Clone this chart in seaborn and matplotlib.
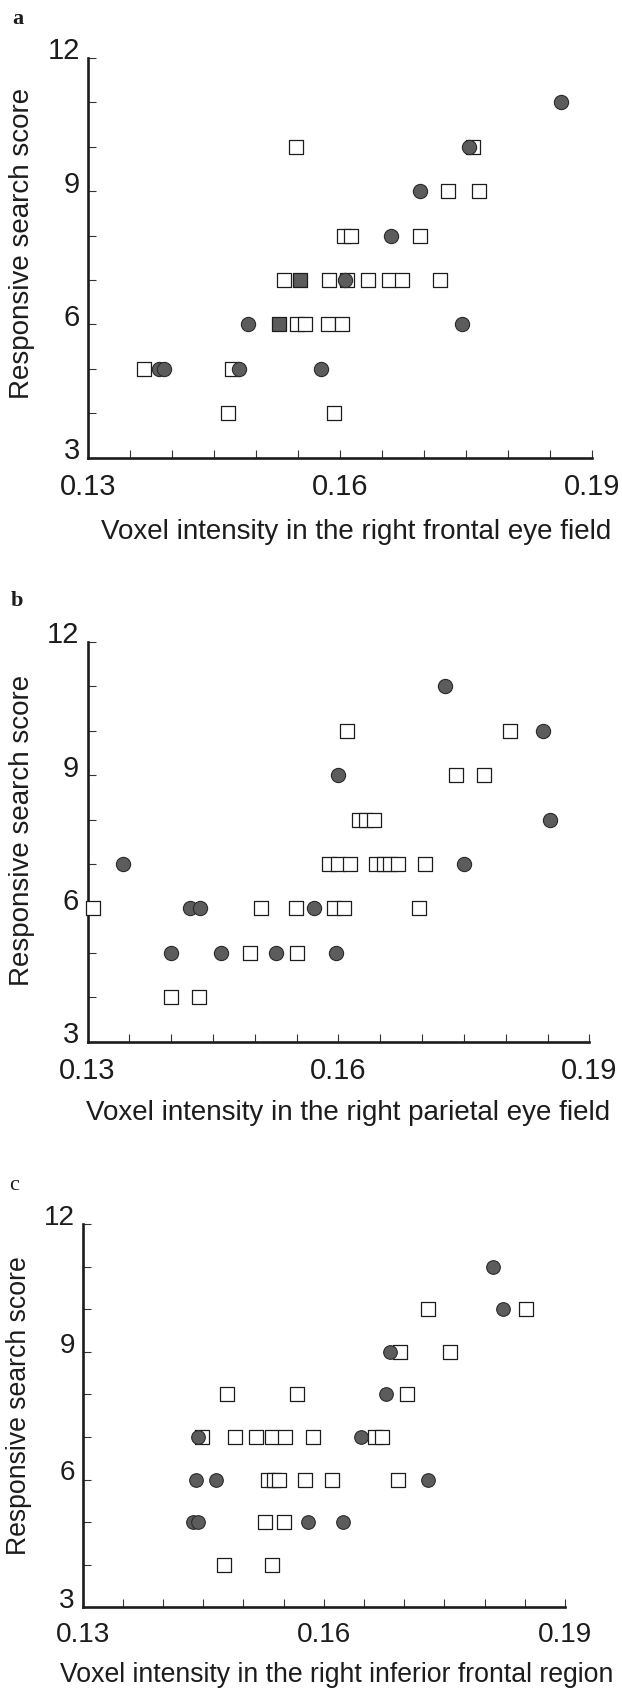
import matplotlib
matplotlib.use("Agg")
import matplotlib.pyplot as plt
import matplotlib.transforms as mtransforms
import seaborn as sns

# ── Data ─────────────────────────────────────────────────────────────────

# a: right frontal eye field
fef_sq_x = [0.1548, 0.1758, 0.1729, 0.1766, 0.1605, 0.1613, 0.1695,
            0.1534, 0.1587, 0.1608, 0.1633, 0.1658, 0.1674, 0.1719,
            0.1549, 0.1558, 0.1586, 0.1603, 0.1367, 0.1472, 0.1467, 0.1593]
fef_sq_y = [10, 10, 9, 9, 8, 8, 8, 7, 7, 7, 7, 7, 7, 7, 6, 6, 6, 6, 5, 5, 4, 4]
fef_ci_x = [0.1863, 0.1754, 0.1695, 0.1661, 0.1606, 0.1490, 0.1746,
            0.1384, 0.1390, 0.1480, 0.1577]
fef_ci_y = [11, 10, 9, 8, 7, 6, 6, 5, 5, 5, 5]
fef_shaded_x = [0.1552, 0.1528]
fef_shaded_y = [7, 6]

# b: right parietal eye field
pef_sq_x = [0.1610, 0.1805, 0.1740, 0.1774, 0.1624, 0.1633, 0.1642,
            0.1589, 0.1600, 0.1614, 0.1645, 0.1654, 0.1662, 0.1671, 0.1703,
            0.1307, 0.1508, 0.1549, 0.1595, 0.1607, 0.1696,
            0.1494, 0.1550, 0.1400, 0.1433]
pef_sq_y = [10, 10, 9, 9, 8, 8, 8, 7, 7, 7, 7, 7, 7, 7, 7,
            6, 6, 6, 6, 6, 6, 5, 5, 4, 4]
pef_ci_x = [0.1728, 0.1844, 0.1599, 0.1853, 0.1343, 0.1750,
            0.1422, 0.1435, 0.1571, 0.1400, 0.1460, 0.1525, 0.1597]
pef_ci_y = [11, 10, 9, 8, 7, 7, 6, 6, 6, 5, 5, 5, 5]

# c: right inferior frontal region
ifr_sq_x = [0.1730, 0.1852, 0.1695, 0.1757, 0.1479, 0.1567, 0.1703,
            0.1449, 0.1490, 0.1516, 0.1536, 0.1552, 0.1586, 0.1663, 0.1672,
            0.1531, 0.1538, 0.1544, 0.1577, 0.1610, 0.1692,
            0.1527, 0.1551, 0.1476, 0.1535]
ifr_sq_y = [10, 10, 9, 9, 8, 8, 8, 7, 7, 7, 7, 7, 7, 7, 7,
            6, 6, 6, 6, 6, 6, 5, 5, 4, 4]
ifr_ci_x = [0.1811, 0.1823, 0.1682, 0.1677, 0.1443, 0.1646,
            0.1441, 0.1466, 0.1729, 0.1437, 0.1444, 0.1580, 0.1624]
ifr_ci_y = [11, 10, 9, 8, 7, 7, 6, 6, 6, 5, 5, 5, 5]

x_ticks = [0.13, 0.135, 0.14, 0.145, 0.15, 0.155, 0.16, 0.165, 0.17, 0.175, 0.18, 0.185, 0.19]
x_ticklabels = ["0.13", "", "", "", "", "", "0.16", "", "", "", "", "", "0.19"]
y_ticks = [3, 4, 5, 6, 7, 8, 9, 10, 11, 12]
y_ticklabels = ["3", "", "", "6", "", "", "9", "", "", "12"]

ylabel = "Responsive search score"

# ── Figure ───────────────────────────────────────────────────────────────

sns.set_theme(style="ticks")
plt.rcParams["font.family"] = ["Liberation Sans", "DejaVu Sans"]

fig = plt.figure(figsize=(6.22, 16.89), dpi=100)

panels = [
    dict(letter="a", rect=[0.1415, 0.7290, 0.8098, 0.2367],
         sq=(fef_sq_x, fef_sq_y), ci=(fef_ci_x, fef_ci_y),
         shaded=(fef_shaded_x, fef_shaded_y),
         xlabel="Voxel intensity in the right frontal eye field",
         ylab_pos=(-0.131, 0.537), xlab_pos=(0.532, -0.185),
         letter_pos=(18, 19), scale=1.0, bold=True),
    dict(letter="b", rect=[0.1407, 0.3832, 0.8068, 0.2368],
         sq=(pef_sq_x, pef_sq_y), ci=(pef_ci_x, pef_ci_y), shaded=None,
         xlabel="Voxel intensity in the right parietal eye field",
         ylab_pos=(-0.1305, 0.529), xlab_pos=(0.519, -0.1775),
         letter_pos=(17, 601), scale=1.0, bold=True),
    dict(letter="c", rect=[0.1330, 0.0484, 0.7754, 0.2269],
         sq=(ifr_sq_x, ifr_sq_y), ci=(ifr_ci_x, ifr_ci_y), shaded=None,
         xlabel="Voxel intensity in the right inferior frontal region",
         ylab_pos=(-0.132, 0.525), xlab_pos=(0.527, -0.1766),
         letter_pos=(14, 1186), scale=0.957, bold=False),
]

ink = "#1c1c1c"
circle_face = "#5c5c5c"

for p in panels:
    ax = fig.add_axes(p["rect"])
    k = p["scale"]

    sns.scatterplot(x=p["sq"][0], y=p["sq"][1], marker="s", s=104 * k * k,
                    color="white", edgecolor=ink, linewidth=0.9,
                    legend=False, clip_on=False, zorder=3, ax=ax)
    if p["shaded"] is not None:
        sns.scatterplot(x=p["shaded"][0], y=p["shaded"][1], marker="s",
                        s=104 * k * k, color=circle_face, edgecolor=ink,
                        linewidth=0.9, legend=False, clip_on=False,
                        zorder=4, ax=ax)
    sns.scatterplot(x=p["ci"][0], y=p["ci"][1], marker="o", s=105 * k * k,
                    color=circle_face, edgecolor="#2a2a2a", linewidth=0.8,
                    legend=False, clip_on=False, zorder=5, ax=ax)

    ax.set_xlim(0.13, 0.19)
    ax.set_ylim(3, 12)
    ax.set_xticks(x_ticks)
    ax.set_xticklabels(x_ticklabels)
    ax.set_yticks(y_ticks)
    ax.set_yticklabels(y_ticklabels)

    ax.spines[["top", "right"]].set_visible(False)
    for side in ("left", "bottom"):
        ax.spines[side].set_linewidth(1.9)
        ax.spines[side].set_color(ink)

    ax.tick_params(direction="in", length=6, width=0.8, color="#333333",
                   labelcolor=ink, labelsize=21 * k)
    ax.tick_params(axis="x", pad=11 * k)
    ax.tick_params(axis="y", pad=6 * k)

    # y tick labels sit a little above their ticks in the original
    raise_lbl = mtransforms.ScaledTranslation(0, 0.095 * k, fig.dpi_scale_trans)
    for lab in ax.get_yticklabels():
        lab.set_transform(lab.get_transform() + raise_lbl)

    ax.set_ylabel(ylabel, fontsize=20 * k, color=ink)
    ax.yaxis.label.set_va("center")
    ax.yaxis.set_label_coords(*p["ylab_pos"])
    ax.set_xlabel(p["xlabel"], fontsize=20 * k, color=ink)
    ax.xaxis.label.set_va("center")
    ax.xaxis.set_label_coords(*p["xlab_pos"])

    lx, ly = p["letter_pos"]
    fig.text(lx / 622, 1 - ly / 1689, p["letter"],
             fontfamily=["Liberation Serif", "DejaVu Serif"],
             fontweight="bold" if p["bold"] else "normal",
             fontsize=16, color=ink, ha="center", va="center")

fig.savefig("out.png", dpi=100)
